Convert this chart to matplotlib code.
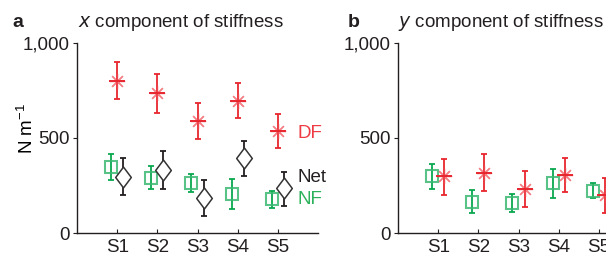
import numpy as np
import matplotlib.pyplot as plt
from matplotlib.path import Path

plt.rcParams['font.family'] = ['Liberation Sans', 'DejaVu Sans']
plt.rcParams['mathtext.fontset'] = 'custom'
plt.rcParams['mathtext.rm'] = 'Liberation Sans'

subjects = ["S1", "S2", "S3", "S4", "S5"]

# panel a: x component (value, upper, lower)
df_x = [800, 735, 588, 694, 539]
df_x_hi = [898, 836, 682, 788, 627]
df_x_lo = [703, 634, 495, 606, 447]
nf_x = [346, 292, 262, 203, 177]
nf_x_hi = [415, 352, 309, 283, 219]
nf_x_lo = [279, 230, 214, 125, 134]
net_x = [297, 332, 186, 394, 235]
net_x_hi = [394, 433, 277, 486, 323]
net_x_lo = [200, 230, 92, 302, 141]

# panel b: y component
nf_y = [298, 163, 158, 265, 223]
nf_y_hi = [365, 225, 205, 339, 261]
nf_y_lo = [233, 105, 112, 182, 182]
df_y = [298, 318, 232, 307, 202]
df_y_hi = [391, 414, 325, 393, 288]
df_y_lo = [202, 221, 137, 216, 105]

red = "#e8262f"
green = "#0aa84f"
black = "#231f20"

diamond = Path([(0, 1), (0.75, 0), (0, -1), (-0.75, 0), (0, 1)],
               [Path.MOVETO, Path.LINETO, Path.LINETO, Path.LINETO, Path.CLOSEPOLY])


def err(v, hi, lo):
    v, hi, lo = map(np.array, (v, hi, lo))
    return [v - lo, hi - v]


def draw(ax, xs, v, hi, lo, color, kind):
    ax.errorbar(xs, v, yerr=err(v, hi, lo), fmt="none", ecolor=color,
                elinewidth=1.3, capsize=2.5, capthick=1.3)
    if kind == "df":
        ax.plot(xs, v, ls="none", marker=(8, 2, 0), ms=11, mec="#f04a52", mew=0.9, alpha=0.7)
        ax.plot(xs, v, ls="none", marker="_", ms=11, mec=color, mew=1.4)
    elif kind == "nf":
        ax.plot(xs, v, ls="none", marker="s", ms=9, mfc="none", mec="#3cb872", mew=1.5, alpha=0.85)
    else:
        ax.plot(xs, v, ls="none", marker=diamond, ms=15, mfc="white", mec="#333333", mew=1.1)


def style(ax):
    ax.set_xlim(0, 6)
    ax.set_ylim(0, 1000)
    ax.spines["top"].set_visible(False)
    ax.spines["right"].set_visible(False)
    ax.set_yticks([0, 500, 1000])
    ax.set_yticklabels(["0", "500", "1,000"])
    ax.set_xticks(np.arange(1, 6))
    ax.set_xticklabels(subjects)
    ax.tick_params(axis="y", direction="out", length=3, labelsize=13.5, pad=2, colors=black)
    ax.tick_params(axis="x", direction="in", length=3, labelsize=13.5, pad=4, colors=black)
    for s in ("left", "bottom"):
        ax.spines[s].set_linewidth(1.0)
        ax.spines[s].set_color(black)


fig = plt.figure(figsize=(6.06, 2.57), dpi=100)
ax1 = fig.add_axes([77 / 606, 1 - 233 / 257, 241 / 606, 190 / 257])
ax2 = fig.add_axes([398 / 606, 1 - 233 / 257, 241 / 606, 190 / 257])

x = np.arange(1, 6)
off = 0.15
draw(ax1, x - off, nf_x, nf_x_hi, nf_x_lo, green, "nf")
draw(ax1, x + off, net_x, net_x_hi, net_x_lo, black, "net")
draw(ax1, x, df_x, df_x_hi, df_x_lo, red, "df")
style(ax1)
ax1.set_ylabel("N m$^{-1}$", fontsize=13.5)
ax1.yaxis.set_label_coords(-0.165, 0.55)
ax1.text(5.5, 526, "DF", color="#ee3b44", fontsize=13.5, va="center", clip_on=False)
ax1.text(5.5, 290, "Net", color=black, fontsize=13.5, va="center", clip_on=False)
ax1.text(5.5, 175, "NF", color="#2cb25b", fontsize=13.5, va="center", clip_on=False)

draw(ax2, x - off, nf_y, nf_y_hi, nf_y_lo, green, "nf")
draw(ax2, x + off, df_y, df_y_hi, df_y_lo, red, "df")
style(ax2)

fig.text(12 / 606, 1 - 27 / 257, "a", fontsize=14, fontweight="bold", color=black)
fig.text(78 / 606, 1 - 27 / 257, "$x$ component of stiffness", fontsize=13.5, color=black)
fig.text(348 / 606, 1 - 27 / 257, "b", fontsize=14, fontweight="bold", color=black)
fig.text(398 / 606, 1 - 27 / 257, "$y$ component of stiffness", fontsize=13.5, color=black)

fig.savefig("out.png", dpi=100)
